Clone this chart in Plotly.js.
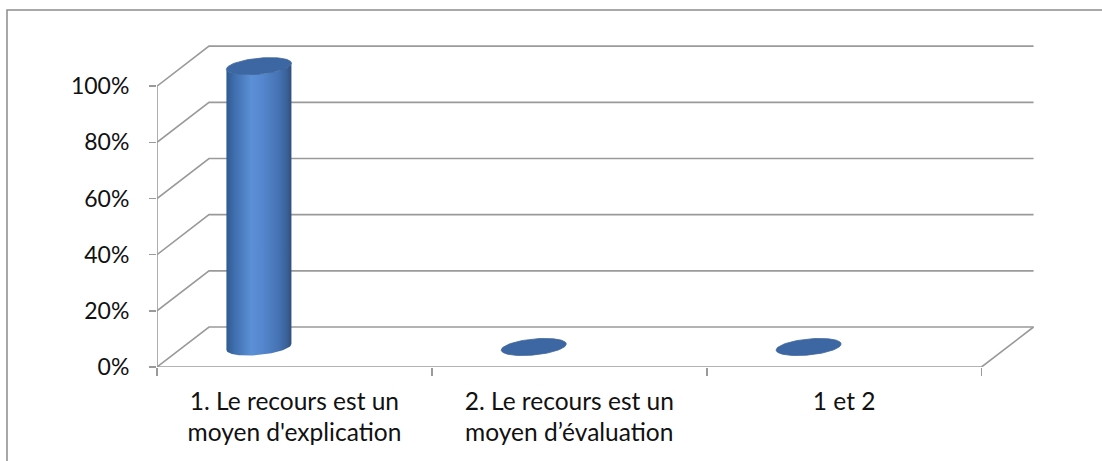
<!DOCTYPE html>
<html>
<head>
<meta charset="utf-8">
<script src="https://cdn.plot.ly/plotly-3.0.1.min.js"></script>
<style>
  html, body { margin: 0; padding: 0; background: #ffffff; }
  #chart { width: 1102px; height: 461px; }
</style>
</head>
<body>
<div id="chart"></div>
<script>
// Survey answers: share of respondents per answer
const categories = [
  "1. Le recours est un<br>moyen d'explication",
  "2. Le recours est un<br>moyen d\u2019\u00e9valuation",
  "1 et 2"
];
const shares = [1.0, 0, 0];
const yTickValues = [0, 0.2, 0.4, 0.6, 0.8, 1.0];
const yTickLabels = ["0%", "20%", "40%", "60%", "80%", "100%"];

// ---- frame geometry ----
const W = 1102, H = 461;
const M = { l: 157, r: 38, t: 30, b: 94 };
const XR = [0, 3.3], YR = [0, 1.2];
const kx = (W - M.l - M.r) / (XR[1] - XR[0]);   // px per category unit
const ky = (H - M.t - M.b) / (YR[1] - YR[0]);   // px per value unit

// 3-D depth of the box (back wall offset), in data units
const DX = 52 / kx, DY = 40 / ky;
const nCat = categories.length;

const GRID = '#9a9a9a';
const FAMILY = 'Lato, "Open Sans", sans-serif';
const XFONT = { family: FAMILY, size: 24.5, color: '#111111' };
const YFONT = { family: FAMILY, size: 23, color: '#111111' };

// ---- box: left wall diagonals + back-wall gridlines, floor ----
const shapes = [];
yTickValues.forEach(v => {
  shapes.push({
    type: 'path', xref: 'x', yref: 'y', layer: 'below',
    path: `M 0 ${v} L ${DX} ${v + DY} L ${nCat + DX} ${v + DY}`,
    line: { color: GRID, width: 1.6 }
  });
});
// floor front and right edges
shapes.push({
  type: 'path', xref: 'x', yref: 'y', layer: 'below',
  path: `M 0 0 L ${nCat} 0 L ${nCat + DX} ${DY}`,
  line: { color: GRID, width: 1.6 }
});
// value axis line (0 to 100%)
shapes.push({
  type: 'line', xref: 'x', yref: 'y', layer: 'below',
  x0: 0, x1: 0, y0: 0, y1: yTickValues[yTickValues.length - 1],
  line: { color: GRID, width: 1.6 }
});
// chart area border (top and left edges)
const pxToPaperX = px => (px - M.l) / (W - M.l - M.r);
const pxToPaperY = py => (H - M.b - py) / (H - M.t - M.b);
shapes.push({
  type: 'path', xref: 'paper', yref: 'paper', layer: 'below',
  path: `M ${pxToPaperX(7)} ${pxToPaperY(H + 2)} L ${pxToPaperX(7)} ${pxToPaperY(10)} L ${pxToPaperX(W + 2)} ${pxToPaperY(10)}`,
  line: { color: '#8c8c8c', width: 1.5 }
});

// ---- cylinders ----
const CYL_SHIFT = -35.5 / kx;     // cylinder axis vs category centre
const RX = 32.5 / kx, RY = 8 / ky;
const SLOPE = (6 / 65) * kx / ky;  // slight tilt of the elliptical caps
const BASE = DY / 2;               // cylinders stand mid-depth on the floor
const N = 48;

function ellipsePt(cx, cy, t) {
  const dx = RX * Math.cos(t);
  return [cx + dx, cy + RY * Math.sin(t) + SLOPE * dx];
}

const traces = [];
shares.forEach((v, i) => {
  const cx = i + 0.5 + CYL_SHIFT;
  const yb = BASE, yt = BASE + v;
  // body outline: bottom front arc (left -> right), up, top front arc (right -> left), down
  const bx = [], by = [];
  for (let k = 0; k <= N; k++) {
    const p = ellipsePt(cx, yb, Math.PI + Math.PI * k / N);
    bx.push(p[0]); by.push(p[1]);
  }
  for (let k = 0; k <= N; k++) {
    const p = ellipsePt(cx, yt, -Math.PI * k / N);
    bx.push(p[0]); by.push(p[1]);
  }
  if (v > 0) {
    traces.push({
      type: 'scatter', mode: 'lines', x: bx, y: by,
      fill: 'toself', line: { width: 0, color: 'rgba(0,0,0,0)' },
      fillcolor: '#4f80c4',
      fillgradient: {
        type: 'horizontal',
        colorscale: [
          [0, '#2f5a91'], [0.12, '#3f6eae'], [0.38, '#5b8fd6'],
          [0.55, '#5587cf'], [0.8, '#4673b3'], [0.93, '#3a6197'], [1, '#2f4f7e']
        ]
      },
      hoverinfo: 'skip', showlegend: false
    });
  }
  // top cap
  const tx = [], ty = [];
  for (let k = 0; k <= 2 * N; k++) {
    const p = ellipsePt(cx, yt, Math.PI * 2 * k / (2 * N));
    tx.push(p[0]); ty.push(p[1]);
  }
  traces.push({
    type: 'scatter', mode: 'lines', x: tx, y: ty,
    fill: 'toself', fillcolor: '#3c67a2',
    line: { width: 0.8, color: '#3a6299' },
    hoverinfo: 'skip', showlegend: false
  });
});

const layout = {
  width: W, height: H,
  margin: M,
  paper_bgcolor: '#ffffff', plot_bgcolor: 'rgba(0,0,0,0)',
  showlegend: false,
  font: XFONT,
  xaxis: {
    range: XR, fixedrange: true,
    showgrid: false, zeroline: false, showline: false,
    tickmode: 'array',
    tickvals: categories.map((_, i) => i + 0.5),
    ticktext: categories,
    ticks: '', ticklen: 0,
    ticklabelstandoff: 17,
    tickfont: XFONT,
    minor: {
      tickmode: 'array',
      tickvals: categories.map((_, i) => i).concat([nCat]),
      ticks: 'outside', ticklen: 8, tickwidth: 1.6, tickcolor: GRID,
      showgrid: false
    }
  },
  yaxis: {
    range: YR, fixedrange: true,
    showgrid: false, zeroline: false, showline: false,
    tickmode: 'array', tickvals: yTickValues, ticktext: yTickLabels,
    ticks: 'outside', ticklen: 7, tickwidth: 1.6, tickcolor: GRID,
    ticklabelstandoff: 15,
    tickfont: YFONT
  },
  shapes: shapes
};

Plotly.newPlot('chart', traces, layout, { displayModeBar: false, staticPlot: true });
</script>
</body>
</html>
